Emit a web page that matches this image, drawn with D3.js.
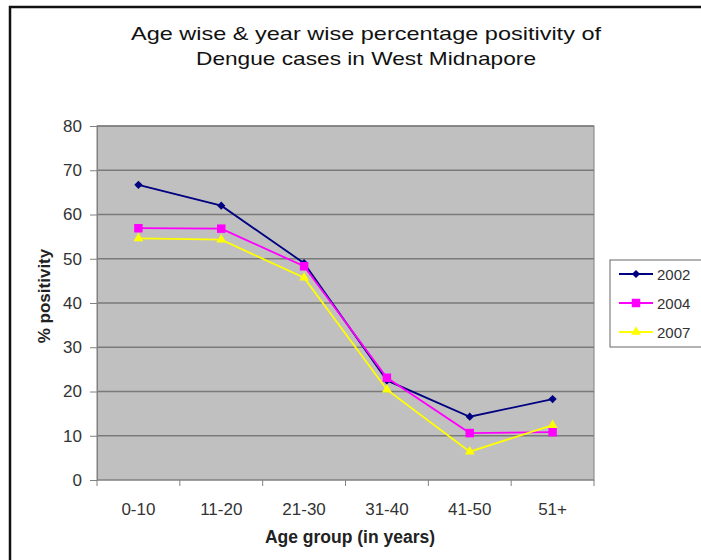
<!DOCTYPE html>
<html>
<head>
<script src="https://d3js.org/d3.v7.min.js"></script>
<style>
  html, body { margin: 0; padding: 0; background: #fff; }
  svg { font-family: Arial, "Liberation Sans", sans-serif; }
</style>
</head>
<body>
<div id="chart"></div>
<script>
// data
const ageGroups = ['0-10', '11-20', '21-30', '31-40', '41-50', '51+']
const yearNames = ['2002', '2004', '2007']
const vals2002 = [66.7, 62.0, 49.0, 22.5, 14.3, 18.3]
const vals2004 = [56.9, 56.8, 48.3, 23.1, 10.6, 10.8]
const vals2007 = [54.6, 54.3, 45.7, 20.4, 6.4, 12.4]
const yTicks = [0, 10, 20, 30, 40, 50, 60, 70, 80]

const W = 701, H = 560
const plot = {left: 97, right: 594, top: 126, bottom: 480}

// diamond = square turned 45deg
const diamond = {draw(ctx, size) {
  const r = Math.sqrt(size) / 2 * Math.SQRT2
  ctx.moveTo(0, -r); ctx.lineTo(r, 0); ctx.lineTo(0, r); ctx.lineTo(-r, 0); ctx.closePath()
}}

const series = [
  {name: yearNames[0], values: vals2002, color: '#000080', symbol: diamond, size: 34},
  {name: yearNames[1], values: vals2004, color: '#ff00ff', symbol: d3.symbolSquare, size: 72},
  {name: yearNames[2], values: vals2007, color: '#ffff00', symbol: d3.symbolTriangle, size: 42}
]

const svg = d3.select('#chart').append('svg')
  .attr('width', W).attr('height', H)

// outer frame
svg.append('rect')
  .attr('x', 10).attr('y', 7).attr('width', W + 20).attr('height', H + 20)
  .attr('fill', '#fff').attr('stroke', '#111').attr('stroke-width', 2.5)

// title (stretched a bit like the original)
const title = svg.append('text')
  .attr('text-anchor', 'middle').attr('font-size', 19).attr('fill', '#111')
title.append('tspan').attr('x', 366).attr('y', 40)
  .attr('textLength', 470).attr('lengthAdjust', 'spacingAndGlyphs')
  .text('Age wise & year wise percentage positivity of')
title.append('tspan').attr('x', 366).attr('y', 65)
  .attr('textLength', 340).attr('lengthAdjust', 'spacingAndGlyphs')
  .text('Dengue cases in West Midnapore')

const x = d3.scaleBand().domain(ageGroups).range([plot.left, plot.right])
const y = d3.scaleLinear().domain([0, 80]).range([plot.bottom, plot.top])

// plot background
svg.append('rect')
  .attr('x', plot.left).attr('y', plot.top)
  .attr('width', plot.right - plot.left).attr('height', plot.bottom - plot.top)
  .attr('fill', '#c0c0c0').attr('stroke', '#808080')

// gridlines
svg.selectAll('.grid').data(yTicks.slice(1)).enter().append('line')
  .attr('x1', plot.left).attr('x2', plot.right)
  .attr('y1', d => y(d)).attr('y2', d => y(d))
  .attr('stroke', '#7a7a7a').attr('stroke-width', 1.3)

// y axis
const yAxis = svg.append('g').attr('transform', `translate(${plot.left},0)`)
  .call(d3.axisLeft(y).tickValues(yTicks).tickSize(7).tickPadding(8))
yAxis.select('.domain').attr('stroke', '#808080')
yAxis.selectAll('.tick line').attr('stroke', '#808080')
yAxis.selectAll('text').attr('font-size', 17).attr('fill', '#333')
  .attr('font-family', 'Arial, "Liberation Sans", sans-serif')

// x axis: ticks at band boundaries
const xAxis = svg.append('g').attr('transform', `translate(0,${plot.bottom})`)
xAxis.append('line').attr('x1', plot.left).attr('x2', plot.right)
  .attr('stroke', '#808080')
const bounds = ageGroups.map(d => x(d)).concat([plot.right])
xAxis.selectAll('.xt').data(bounds).enter().append('line')
  .attr('x1', d => d).attr('x2', d => d).attr('y1', 0).attr('y2', 6)
  .attr('stroke', '#808080')
xAxis.selectAll('.xl').data(ageGroups).enter().append('text')
  .attr('x', d => x(d) + x.bandwidth() / 2).attr('y', 35)
  .attr('text-anchor', 'middle').attr('font-size', 17).attr('fill', '#333')
  .text(d => d)

// axis titles
svg.append('text').attr('x', 350).attr('y', 543)
  .attr('text-anchor', 'middle').attr('font-size', 17.5).attr('font-weight', 'bold').attr('fill', '#222')
  .text('Age group (in years)')
svg.append('text').attr('transform', 'translate(50,296) rotate(-90)')
  .attr('text-anchor', 'middle').attr('font-size', 17).attr('font-weight', 'bold').attr('fill', '#222')
  .text('% positivity')

// lines and markers
const line = d3.line()
  .x((d, i) => x(ageGroups[i]) + x.bandwidth() / 2)
  .y(d => y(d))

series.forEach(s => {
  svg.append('path').datum(s.values)
    .attr('d', line).attr('fill', 'none')
    .attr('stroke', s.color).attr('stroke-width', 1.8)
  svg.selectAll(null).data(s.values).enter().append('path')
    .attr('transform', (d, i) => `translate(${x(ageGroups[i]) + x.bandwidth() / 2},${y(d)})`)
    .attr('d', d3.symbol().type(s.symbol).size(s.size))
    .attr('fill', s.color)
})

// legend
const lg = svg.append('g')
lg.append('rect').attr('x', 610).attr('y', 260).attr('width', 110).attr('height', 87)
  .attr('fill', '#fff').attr('stroke', '#666')
series.forEach((s, i) => {
  const ly = 274 + i * 29
  lg.append('line').attr('x1', 619).attr('x2', 653).attr('y1', ly).attr('y2', ly)
    .attr('stroke', s.color).attr('stroke-width', 1.8)
  lg.append('path').attr('transform', `translate(636,${ly})`)
    .attr('d', d3.symbol().type(s.symbol).size(s.size)).attr('fill', s.color)
  lg.append('text').attr('x', 657).attr('y', ly + 5.5)
    .attr('font-size', 15).attr('fill', '#333').text(s.name)
})
</script>
</body>
</html>
